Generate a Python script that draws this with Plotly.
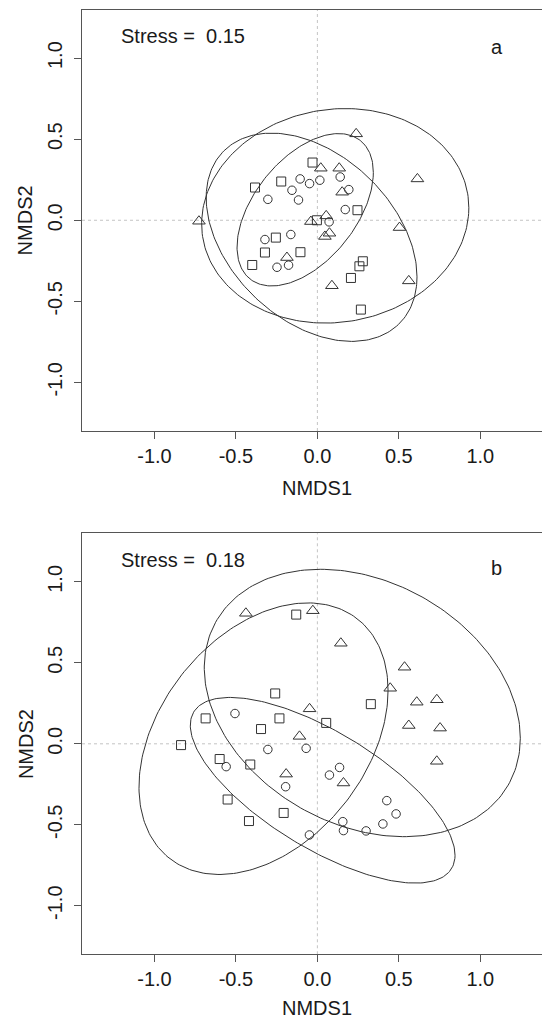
import numpy as np
import plotly.graph_objects as go

# ---------------- data ----------------
# Panel a
a_circle_x = [-0.106, -0.048, 0.015, -0.156, -0.116, -0.304, 0.140, 0.193, 0.171, 0.072, -0.322, -0.163, -0.248, -0.177]
a_circle_y = [0.255, 0.226, 0.247, 0.185, 0.125, 0.129, 0.267, 0.189, 0.066, -0.010, -0.119, -0.088, -0.290, -0.277]
a_square_x = [-0.030, -0.222, -0.383, 0.246, -0.003, -0.255, -0.322, -0.104, -0.400, 0.279, 0.258, 0.206, 0.267]
a_square_y = [0.356, 0.239, 0.202, 0.062, 0.000, -0.107, -0.199, -0.197, -0.276, -0.253, -0.284, -0.356, -0.551]
a_triangle_x = [-0.727, 0.238, 0.614, 0.504, 0.021, 0.134, 0.152, 0.054, -0.040, 0.074, 0.046, -0.187, 0.089, 0.561]
a_triangle_y = [-0.006, 0.533, 0.255, -0.045, 0.321, 0.321, 0.173, 0.027, -0.008, -0.080, -0.100, -0.230, -0.404, -0.374]

# Panel b
b_circle_x = [-0.506, -0.304, -0.069, -0.560, -0.195, -0.049, 0.136, 0.074, 0.426, 0.483, 0.402, 0.156, 0.160, 0.299]
b_circle_y = [0.187, -0.035, -0.028, -0.141, -0.265, -0.563, -0.146, -0.193, -0.351, -0.433, -0.495, -0.481, -0.536, -0.538]
b_square_x = [-0.130, -0.259, -0.686, -0.233, -0.346, -0.837, -0.600, -0.412, 0.328, 0.054, -0.551, -0.207, -0.420]
b_square_y = [0.798, 0.311, 0.157, 0.157, 0.091, -0.008, -0.094, -0.128, 0.245, 0.129, -0.344, -0.427, -0.477]
b_triangle_x = [-0.439, -0.028, 0.144, 0.535, 0.447, 0.610, 0.733, 0.561, 0.753, 0.733, -0.048, -0.110, -0.192, 0.160]
b_triangle_y = [0.806, 0.822, 0.621, 0.473, 0.343, 0.257, 0.272, 0.113, 0.097, -0.108, 0.216, 0.046, -0.187, -0.242]

stress_a = 0.15
stress_b = 0.18
panel_labels = ["a", "b"]
x_title = "NMDS1"
y_title = "NMDS2"
tick_vals = [-1.0, -0.5, 0.0, 0.5, 1.0]
tick_text = ["-1.0", "-0.5", "0.0", "0.5", "1.0"]
ellipse_conf = 0.95

# ---------------- helpers ----------------
W, H = 550, 1019
OFF = 8            # page body margin of the html page
L_MARGIN = 82 - OFF


def px_x(px):
    return (px - OFF - L_MARGIN) / (W - L_MARGIN)


def px_y(py):
    return 1 - (py - OFF) / H


def ellipse(xs, ys, conf=0.95, n=240):
    pts = np.column_stack([xs, ys])
    c = pts.mean(axis=0)
    cov = np.cov(pts, rowvar=False)
    scale = np.sqrt(-2 * np.log(1 - conf))
    Lc = np.linalg.cholesky(cov)
    t = np.linspace(0, 2 * np.pi, n)
    circ = np.vstack([np.cos(t), np.sin(t)])
    e = c[:, None] + scale * (Lc @ circ)
    return e[0], e[1]


MK = "#333333"
LINE = "#333333"
BOX = "#555555"
TXT = "#1a1a1a"
FONT = "Liberation Sans, Arial, sans-serif"

fig = go.Figure()

panels = [
    ("x", "y", (a_circle_x, a_circle_y), (a_square_x, a_square_y), (a_triangle_x, a_triangle_y)),
    ("x2", "y2", (b_circle_x, b_circle_y), (b_square_x, b_square_y), (b_triangle_x, b_triangle_y)),
]

for xa, ya, circ, sq, tri in panels:
    for (gx, gy) in (tri, sq, circ):
        ex, ey = ellipse(gx, gy, ellipse_conf)
        fig.add_trace(go.Scatter(x=ex, y=ey, xaxis=xa, yaxis=ya, mode="lines",
                                 line=dict(color=LINE, width=1), hoverinfo="skip", showlegend=False))
    fig.add_trace(go.Scatter(x=sq[0], y=sq[1], xaxis=xa, yaxis=ya, mode="markers",
                             marker=dict(symbol="square-open", size=9, color=MK, line=dict(color=MK, width=1)),
                             showlegend=False))
    fig.add_trace(go.Scatter(x=circ[0], y=circ[1], xaxis=xa, yaxis=ya, mode="markers",
                             marker=dict(symbol="circle-open", size=8.5, color=MK, line=dict(color=MK, width=1)),
                             showlegend=False))
    fig.add_trace(go.Scatter(x=tri[0], y=tri[1], xaxis=xa, yaxis=ya, mode="markers",
                             marker=dict(symbol="triangle-up-open", size=11, color=MK, line=dict(color=MK, width=1)),
                             showlegend=False))

x_range = [-1.445, 1.477]
y_range = [-1.3, 1.3]

axis_common = dict(
    tickvals=tick_vals, ticktext=tick_text, ticks="outside", ticklen=7, tickwidth=1,
    tickcolor=BOX, showline=True, linecolor=BOX, linewidth=1, showgrid=False, zeroline=False,
    tickfont=dict(family=FONT, size=20, color=TXT), automargin=False,
)

dom_a = [px_y(431.0), px_y(9.5)]
dom_b = [px_y(954.3), px_y(533.3)]

fig.update_layout(
    width=W, height=H,
    margin=dict(l=L_MARGIN, r=0, t=0, b=0),
    paper_bgcolor="white", plot_bgcolor="white",
    font=dict(family=FONT, size=20, color=TXT),
    xaxis=dict(domain=[0, 1], anchor="y", range=x_range, mirror=True, **axis_common),
    yaxis=dict(domain=dom_a, anchor="x", range=y_range, tickangle=-90, ticklabelstandoff=4, **axis_common),
    xaxis2=dict(domain=[0, 1], anchor="y2", range=x_range, mirror=True, **axis_common),
    yaxis2=dict(domain=dom_b, anchor="x2", range=y_range, tickangle=-90, ticklabelstandoff=4, **axis_common),
    showlegend=False,
)

shapes = []
for xr, yr in (("x", "y"), ("x2", "y2")):
    shapes.append(dict(type="line", xref=xr, yref=yr + " domain", x0=0, x1=0, y0=0, y1=1,
                       line=dict(color="#c4c4c4", width=1, dash="dot"), layer="below"))
    shapes.append(dict(type="line", xref=xr + " domain", yref=yr, x0=0, x1=1, y0=0, y1=0,
                       line=dict(color="#c4c4c4", width=1, dash="dot"), layer="below"))
fig.update_layout(shapes=shapes)

ann = []
for stress, top_off in ((stress_a, 0.0), (stress_b, 524.0)):
    ann.append(dict(text=f"Stress =\u00a0 {stress:.2f}", xref="paper", yref="paper",
                    x=px_x(118.6), y=px_y(36.0 + top_off), xanchor="left", yanchor="middle",
                    showarrow=False, font=dict(family=FONT, size=20, color=TXT)))
ann.append(dict(text=panel_labels[0], xref="paper", yref="paper", x=px_x(496.8), y=px_y(46.5),
                xanchor="center", yanchor="middle", showarrow=False,
                font=dict(family=FONT, size=20, color=TXT)))
ann.append(dict(text=panel_labels[1], xref="paper", yref="paper", x=px_x(496.8), y=px_y(568.0),
                xanchor="center", yanchor="middle", showarrow=False,
                font=dict(family=FONT, size=20, color=TXT)))
for cy_title, cy_axis in ((487.5, 220.0), (1007.5, 743.7)):
    ann.append(dict(text=x_title, xref="paper", yref="paper", x=px_x(316.8), y=px_y(cy_title),
                    xanchor="center", yanchor="middle", showarrow=False,
                    font=dict(family=FONT, size=20, color=TXT)))
    ann.append(dict(text=y_title, xref="paper", yref="paper", x=px_x(25.4), y=px_y(cy_axis),
                    xanchor="center", yanchor="middle", textangle=-90, showarrow=False,
                    font=dict(family=FONT, size=20, color=TXT)))
fig.update_layout(annotations=ann)

fig.write_html("out.html")
